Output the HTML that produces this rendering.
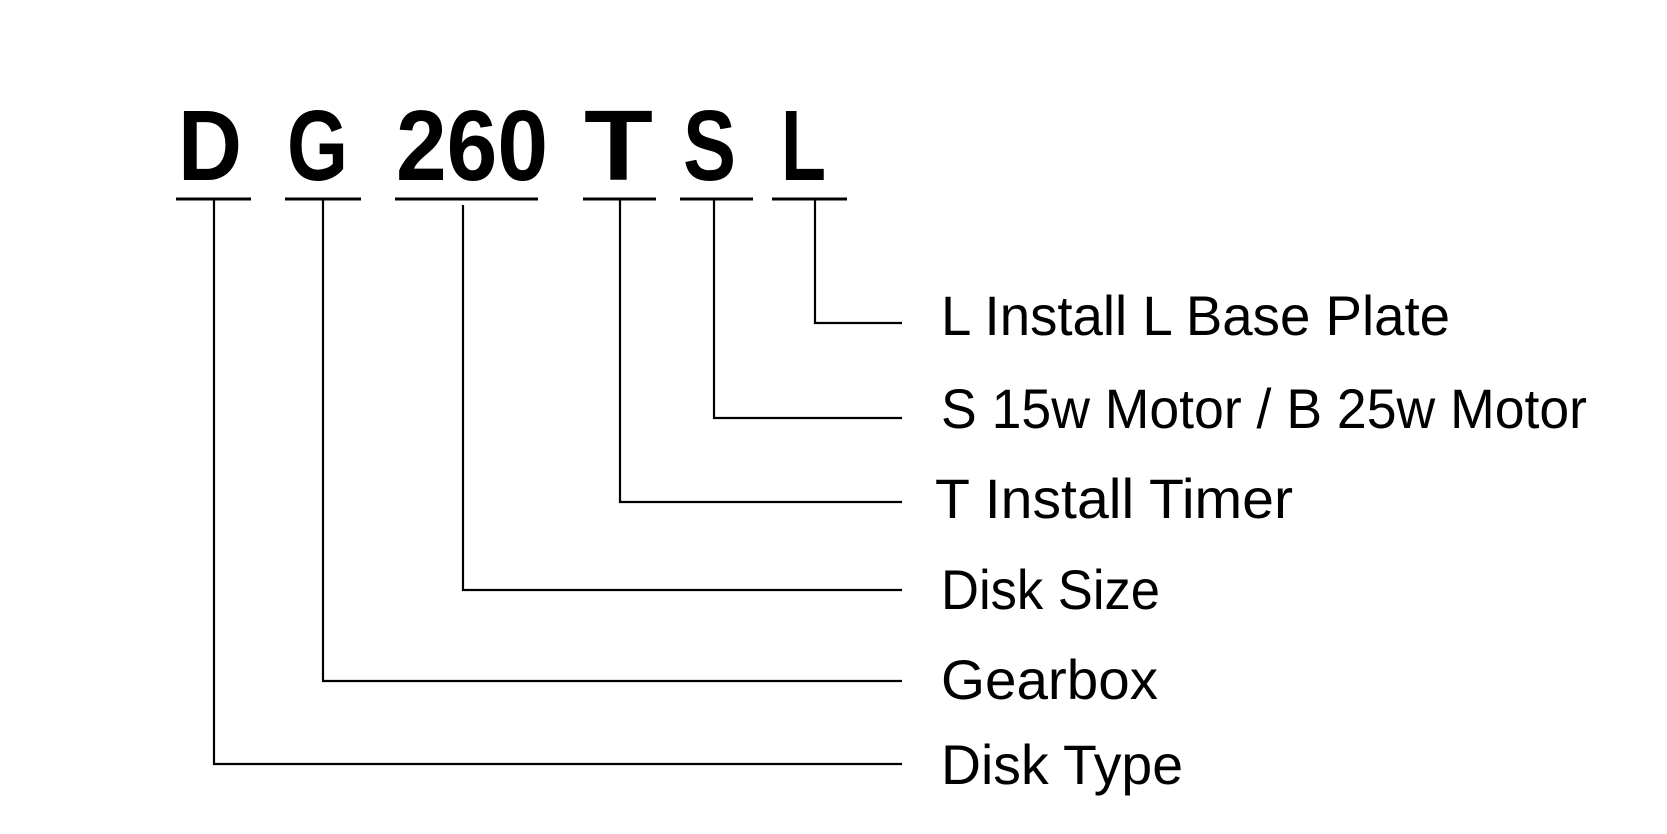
<!DOCTYPE html>
<html><head><style>html,body{margin:0;padding:0;background:#fff}</style></head>
<body>
<svg width="1667" height="834" xmlns="http://www.w3.org/2000/svg" style="display:block">
<rect width="1667" height="834" fill="#fff"/>
<g font-family="Liberation Sans, sans-serif" font-weight="bold" font-size="100" fill="#000">
<text x="178" y="180" textLength="64" lengthAdjust="spacingAndGlyphs">D</text>
<text x="287" y="180" textLength="61" lengthAdjust="spacingAndGlyphs">G</text>
<text x="396" y="180" textLength="152" lengthAdjust="spacingAndGlyphs">260</text>
<text x="584" y="180" textLength="69" lengthAdjust="spacingAndGlyphs">T</text>
<text x="683" y="180" textLength="53" lengthAdjust="spacingAndGlyphs">S</text>
<text x="781" y="180" textLength="45" lengthAdjust="spacingAndGlyphs">L</text>
</g>
<g stroke="#000" stroke-width="3" fill="none">
<line x1="176" y1="199" x2="251" y2="199"/>
<line x1="285" y1="199" x2="361" y2="199"/>
<line x1="395" y1="199" x2="538" y2="199"/>
<line x1="583" y1="199" x2="656" y2="199"/>
<line x1="680" y1="199" x2="753" y2="199"/>
<line x1="772" y1="199" x2="847" y2="199"/>
</g>
<g stroke="#000" stroke-width="2.2" fill="none">
<polyline points="214,199 214,764 902,764"/>
<polyline points="323,199 323,681 902,681"/>
<polyline points="463,205 463,590 902,590"/>
<polyline points="620,199 620,502 902,502"/>
<polyline points="714,199 714,418 902,418"/>
<polyline points="815,199 815,323 902,323"/>
</g>
<g font-family="Liberation Sans, sans-serif" font-size="56" fill="#000">
<text x="941" y="335" textLength="509" lengthAdjust="spacingAndGlyphs">L Install L Base Plate</text>
<text x="941" y="428" textLength="646" lengthAdjust="spacingAndGlyphs">S 15w Motor / B 25w Motor</text>
<text x="935" y="518" textLength="358" lengthAdjust="spacingAndGlyphs">T Install Timer</text>
<text x="941" y="609" textLength="219" lengthAdjust="spacingAndGlyphs">Disk Size</text>
<text x="941" y="699" textLength="217" lengthAdjust="spacingAndGlyphs">Gearbox</text>
<text x="941" y="784" textLength="242" lengthAdjust="spacingAndGlyphs">Disk Type</text>
</g>
</svg>
</body></html>
